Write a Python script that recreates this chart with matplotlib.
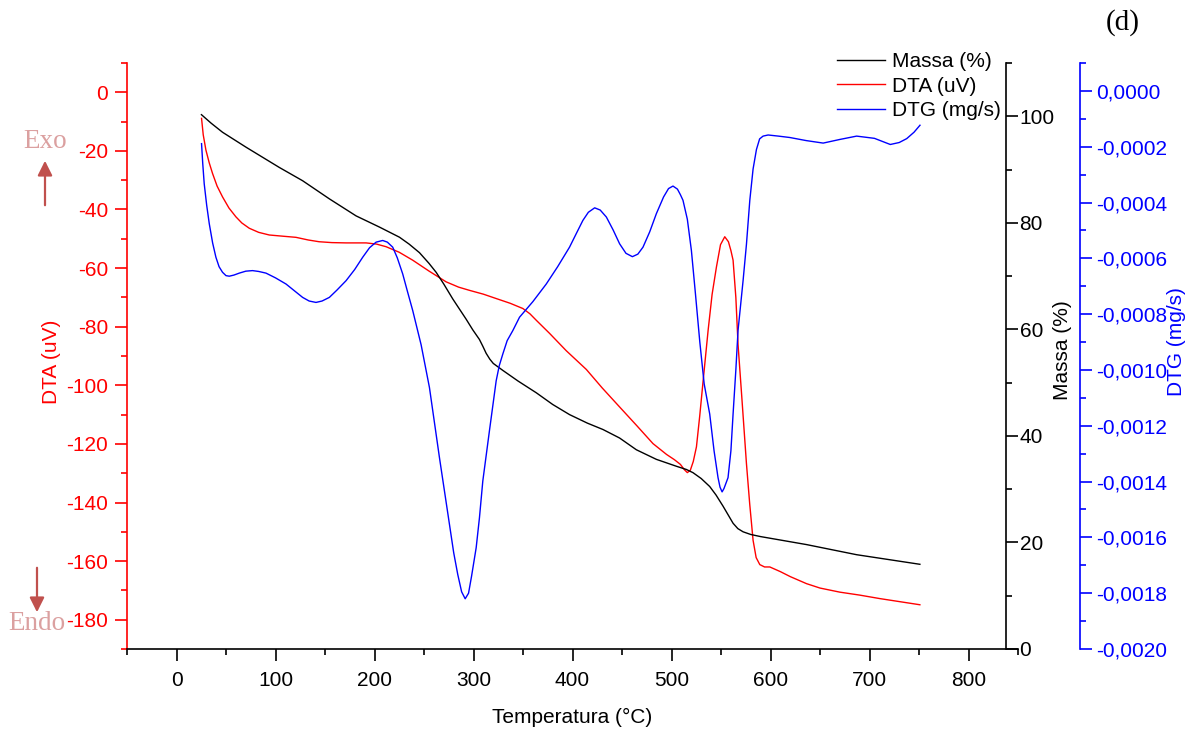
import matplotlib
matplotlib.use("Agg")
import matplotlib.pyplot as plt
from matplotlib.lines import Line2D
from matplotlib.ticker import MultipleLocator, FuncFormatter

plt.rcParams['font.family'] = ['Liberation Sans', 'DejaVu Sans']
plt.rcParams['axes.unicode_minus'] = False

# Massa (%) vs temperature
massa_t = [25.2, 35.0, 46.5, 70.2, 103.8, 127.4, 154.4, 181.4, 205.0, 225.2, 235.0,
           245.4, 255.0, 262.3, 270.0, 279.1, 292.6, 299.3, 306.0, 309.5, 312.8,
           316.5, 320.0, 329.6, 345.0, 363.4, 380.0, 397.0, 415.0, 430.8, 447.6,
           464.5, 484.7, 505.0, 515.0, 521.7, 530.0, 538.6, 545.0, 552.1, 562.2,
           567.0, 572.3, 580.0, 590.0, 599.3, 636.4, 687.0, 750.9]
massa_v = [100.3, 98.7, 97.0, 94.2, 90.4, 87.9, 84.5, 81.3, 79.2, 77.3, 76.0,
           74.4, 72.4, 70.7, 68.5, 65.7, 61.9, 59.9, 58.1, 56.8, 55.5,
           54.4, 53.6, 52.3, 50.3, 48.1, 45.9, 44.0, 42.4, 41.2, 39.6,
           37.4, 35.6, 34.3, 33.7, 33.1, 32.0, 30.5, 28.9, 26.8, 23.6,
           22.6, 22.0, 21.5, 21.1, 20.8, 19.6, 17.7, 15.9]

# DTA (uV) vs temperature
dta_t = [25.3, 27.0, 29.7, 33.0, 36.4, 41.0, 46.5, 53.0, 60.0, 66.0, 73.5, 83.0,
         93.7, 107.0, 120.7, 133.0, 144.0, 157.0, 171.3, 191.5, 202.0, 211.7,
         225.0, 238.6, 255.0, 272.4, 285.0, 296.0, 310.0, 323.0, 337.0, 349.9,
         357.0, 363.4, 376.9, 393.7, 414.0, 430.0, 447.6, 465.0, 481.3, 495.0,
         503.0, 509.0, 513.0, 516.0, 519.0, 522.0, 525.2, 528.5, 532.0, 537.0,
         541.0, 545.4, 549.5, 553.8, 557.5, 560.0, 562.2, 565.0, 567.2, 571.0,
         575.7, 579.0, 582.4, 585.5, 589.2, 594.0, 599.3, 610.0, 620.0, 636.4,
         650.0, 670.1, 690.0, 710.5, 750.9]
dta_v = [-8.9, -14.5, -19.7, -24.0, -27.7, -32.0, -35.7, -39.5, -42.5, -44.6, -46.4, -47.8,
         -48.7, -49.1, -49.5, -50.4, -51.0, -51.3, -51.4, -51.4, -51.8, -52.7,
         -54.6, -57.3, -61.0, -64.7, -66.5, -67.6, -68.9, -70.4, -72.0, -73.8,
         -75.6, -77.8, -82.3, -88.2, -94.6, -100.9, -107.4, -113.8, -119.9, -123.6,
         -125.4, -127.0, -128.8, -129.8, -129.0, -126.0, -121.0, -110.5, -98.3, -81.2,
         -69.0, -59.6, -52.0, -49.3, -51.0, -54.0, -57.3, -70.0, -86.0, -104.0,
         -126.7, -140.5, -152.9, -158.8, -161.2, -162.0, -162.0, -163.6, -165.3, -167.7,
         -169.2, -170.6, -171.6, -172.8, -174.9]

# DTG (mg/s) vs temperature, values in units of 1e-4
dtg_t = [25.3, 26.5, 28.0, 30.5, 33.1, 36.5, 39.8, 43.0, 46.5, 50.0, 53.3, 58.0,
         63.4, 70.0, 76.8, 83.0, 90.4, 100.0, 110.6, 119.0, 127.4, 134.0, 140.9,
         147.0, 154.4, 162.0, 171.3, 180.0, 188.1, 195.0, 201.6, 208.3, 213.0,
         218.4, 223.0, 228.5, 233.0, 238.6, 247.1, 255.5, 265.6, 275.7, 280.0,
         284.1, 288.0, 291.6, 295.0, 298.0, 302.7, 306.0, 309.4, 316.1, 322.9,
         326.0, 329.6, 334.0, 339.7, 346.5, 360.0, 373.5, 385.0, 397.0, 404.0,
         410.5, 416.0, 422.4, 428.0, 434.2, 441.0, 447.6, 454.0, 460.5, 466.0,
         471.2, 478.0, 484.7, 492.0, 497.0, 501.5, 506.0, 509.0, 511.6, 516.0,
         520.1, 524.0, 528.6, 533.0, 538.6, 543.0, 547.0, 549.0, 551.1, 553.0,
         557.1, 560.0, 562.2, 565.0, 567.2, 572.3, 575.7, 579.1, 582.4, 585.8,
         589.0, 592.5, 597.6, 608.0, 619.5, 636.0, 653.2, 670.0, 687.0, 705.0,
         721.0, 730.0, 737.6, 745.0, 751.0]
dtg_v = [-1.89, -2.60, -3.33, -4.10, -4.76, -5.45, -5.96, -6.30, -6.50, -6.62, -6.64, -6.60,
         -6.53, -6.46, -6.44, -6.47, -6.53, -6.70, -6.92, -7.16, -7.40, -7.53, -7.58,
         -7.53, -7.40, -7.14, -6.80, -6.40, -5.96, -5.62, -5.42, -5.36, -5.42,
         -5.60, -5.98, -6.56, -7.15, -7.87, -9.10, -10.63, -13.14, -15.53, -16.55,
         -17.33, -17.95, -18.20, -18.00, -17.40, -16.37, -15.30, -13.98, -12.18, -10.39,
         -9.85, -9.43, -8.95, -8.59, -8.11, -7.55, -6.92, -6.30, -5.60, -5.10,
         -4.64, -4.35, -4.19, -4.27, -4.52, -4.98, -5.48, -5.82, -5.94, -5.85,
         -5.60, -5.05, -4.40, -3.80, -3.50, -3.41, -3.52, -3.72, -3.92, -4.60,
         -5.72, -7.20, -9.00, -10.50, -11.58, -12.90, -13.86, -14.20, -14.37, -14.25,
         -13.86, -12.90, -11.58, -10.00, -8.59, -6.80, -5.50, -3.92, -2.80, -2.10,
         -1.72, -1.62, -1.58, -1.62, -1.67, -1.78, -1.87, -1.74, -1.62, -1.70,
         -1.92, -1.85, -1.71, -1.48, -1.23]
dtg_v = [v * 1e-4 for v in dtg_v]

W, H = 1192, 732
FS = 15
fig = plt.figure(figsize=(W / 100, H / 100), dpi=100)
ax = fig.add_axes([127 / W, 1 - 649 / H, (1018 - 127) / W, (649 - 63) / H])
ax_m = ax.twinx()
ax_d = ax.twinx()

tick_kw = dict(direction='out', labelsize=FS)

# DTA on the left axis
ax.plot(dta_t, dta_v, color='red', lw=1.0, zorder=2)
ax.set_xlim(-50, 850)
ax.set_ylim(-190, 10)
ax.xaxis.set_major_locator(MultipleLocator(100))
ax.xaxis.set_minor_locator(MultipleLocator(50))
ax.yaxis.set_major_locator(MultipleLocator(20))
ax.yaxis.set_minor_locator(MultipleLocator(10))
ax.tick_params(axis='x', which='major', length=8.5, width=1.2, pad=7, **tick_kw)
ax.tick_params(axis='x', which='minor', length=4, width=1.2)
ax.tick_params(axis='y', which='major', length=8.5, width=1.2, colors='red', pad=5, **tick_kw)
ax.tick_params(axis='y', which='minor', length=4, width=1.2, colors='red')
ax.spines['left'].set_color('red')
ax.spines['left'].set_linewidth(1.2)
ax.spines['bottom'].set_linewidth(1.2)
ax.spines['top'].set_visible(False)
ax.spines['right'].set_visible(False)
ax.set_xlabel('Temperatura (°C)', fontsize=FS)
ax.xaxis.set_label_coords(0.5, -0.1)
ax.set_ylabel('DTA (uV)', fontsize=FS, color='red')
ax.yaxis.set_label_coords(-0.074, 0.49)

# Massa on the first right axis
ax_m.plot(massa_t, massa_v, color='black', lw=1.0)
ax_m.set_ylim(0, 110)
ax_m.yaxis.set_major_locator(MultipleLocator(20))
ax_m.yaxis.set_minor_locator(MultipleLocator(10))
for s in ['left', 'top', 'bottom']:
    ax_m.spines[s].set_visible(False)
ax_m.spines['right'].set_position(('axes', 0.987))
ax_m.spines['right'].set_linewidth(1.2)
ax_m.tick_params(axis='y', which='major', length=8.5, width=1.2, pad=1, **tick_kw)
ax_m.tick_params(axis='y', which='minor', length=4, width=1.2)
ax_m.set_ylabel('Massa (%)', fontsize=FS)
ax_m.yaxis.set_label_coords(1.0393, 0.51)

# DTG on the outer right axis
ax_d.plot(dtg_t, dtg_v, color='blue', lw=1.0)
ax_d.set_ylim(-0.0020, 0.0001)
ax_d.yaxis.set_major_locator(MultipleLocator(0.0002))
ax_d.yaxis.set_minor_locator(MultipleLocator(0.0001))
ax_d.yaxis.set_major_formatter(FuncFormatter(
    lambda v, p: f"{(0.0 if abs(v) < 1e-12 else v):.4f}".replace('.', ',')))
for s in ['left', 'top', 'bottom']:
    ax_d.spines[s].set_visible(False)
ax_d.spines['right'].set_position(('axes', 1.0696))
ax_d.spines['right'].set_color('blue')
ax_d.spines['right'].set_linewidth(1.2)
ax_d.tick_params(axis='y', which='major', length=8.5, width=1.2, colors='blue', pad=3, **tick_kw)
ax_d.tick_params(axis='y', which='minor', length=4, width=1.2, colors='blue')
ax_d.set_ylabel('DTG (mg/s)', fontsize=FS, color='blue')
ax_d.yaxis.set_label_coords(1.167, 0.525)

handles = [Line2D([], [], color='black', lw=1.0),
           Line2D([], [], color='red', lw=1.0),
           Line2D([], [], color='blue', lw=1.0)]
fig.legend(handles, ['Massa (%)', 'DTA (uV)', 'DTG (mg/s)'], loc='upper left',
           bbox_to_anchor=(837 / W, 1 - 52 / H), frameon=False, fontsize=FS,
           handlelength=2.3, handletextpad=0.34, labelspacing=0.27, borderpad=0,
           borderaxespad=0)

# Exo / Endo markers
arrow_c = '#c0504d'
text_c = '#dba0a0'
ax.annotate('', xy=(45 / W, 1 - 158 / H), xytext=(45 / W, 1 - 208 / H),
            xycoords='figure fraction', textcoords='figure fraction',
            arrowprops=dict(arrowstyle='-|>', color=arrow_c, lw=1.6, mutation_scale=22),
            annotation_clip=False)
ax.annotate('', xy=(37 / W, 1 - 615 / H), xytext=(37 / W, 1 - 565 / H),
            xycoords='figure fraction', textcoords='figure fraction',
            arrowprops=dict(arrowstyle='-|>', color=arrow_c, lw=1.6, mutation_scale=22),
            annotation_clip=False)
fig.text(45 / W, 1 - 141 / H, 'Exo', color=text_c, fontsize=19.5,
         family='Liberation Serif', ha='center', va='center')
fig.text(37 / W, 1 - 623 / H, 'Endo', color=text_c, fontsize=19.5,
         family='Liberation Serif', ha='center', va='center')

fig.text(1123 / W, 1 - 23 / H, '(d)', fontsize=21, family='Liberation Serif',
         ha='center', va='center')

fig.savefig('out.png', dpi=100)
